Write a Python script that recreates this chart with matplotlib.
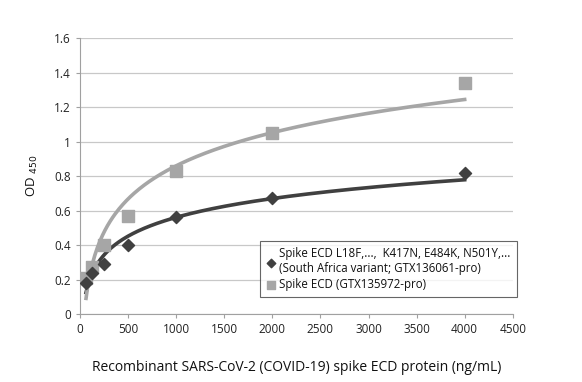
import numpy as np
import matplotlib.pyplot as plt

plt.rcParams['font.family'] = ['Open Sans', 'DejaVu Sans']

# data
conc = [62.5, 125, 250, 500, 1000, 2000, 4000]
od_variant = [0.18, 0.24, 0.29, 0.40, 0.56, 0.67, 0.82]
od_wild = [0.21, 0.27, 0.40, 0.57, 0.83, 1.05, 1.34]
label_variant = "Spike ECD L18F,...,  K417N, E484K, N501Y,...\n(South Africa variant; GTX136061-pro)"
label_wild = "Spike ECD (GTX135972-pro)"

dark = '#404040'
light = '#a6a6a6'

fig = plt.figure(figsize=(5.82, 3.82), dpi=100)
ax = fig.add_axes([0.1375, 0.178, 0.7435, 0.7225])

# logarithmic trendlines fitted to each series
xs = np.linspace(min(conc), max(conc), 300)
for ys, col in [(od_variant, dark), (od_wild, light)]:
    a, b = np.polyfit(np.log(conc), ys, 1)
    ax.plot(xs, a * np.log(xs) + b, color=col, lw=2.6, zorder=2)

ax.scatter(conc, od_variant, marker='D', s=38, color=dark, zorder=4, label=label_variant)
ax.scatter(conc, od_wild, marker='s', s=70, color=light, zorder=3, label=label_wild)

ax.set_xlim(0, 4500)
ax.set_ylim(0, 1.6)
ax.set_xticks(np.arange(0, 4501, 500))
yt = np.arange(0, 1.61, 0.2)
ax.set_yticks(yt)
ax.set_yticklabels(['%g' % round(v, 1) for v in yt])
ax.tick_params(labelsize=8.5, colors='#222222', length=3, color='#a0a0a0')
ax.grid(axis='y', color='#c8c8c8', lw=0.9)
ax.set_axisbelow(True)
for s in ['top', 'right']:
    ax.spines[s].set_visible(False)
for s in ['left', 'bottom']:
    ax.spines[s].set_color('#a0a0a0')

ax.set_xlabel("Recombinant SARS-CoV-2 (COVID-19) spike ECD protein (ng/mL)", fontsize=10,
              labelpad=17, color='#111111')
ax.set_ylabel(r"OD $_{450}$", fontsize=9.5, labelpad=10, color='#111111')

leg = ax.legend(loc='lower right', bbox_to_anchor=(1.01, 0.06), fontsize=8.3, frameon=True,
                fancybox=False, edgecolor='#404040', handletextpad=0.3, borderpad=0.55,
                markerscale=0.7, handlelength=0.8, labelspacing=0.25, borderaxespad=0)
leg.get_frame().set_linewidth(0.8)
for t in leg.get_texts():
    t.set_color('#111111')

plt.savefig("out.png", dpi=100)
